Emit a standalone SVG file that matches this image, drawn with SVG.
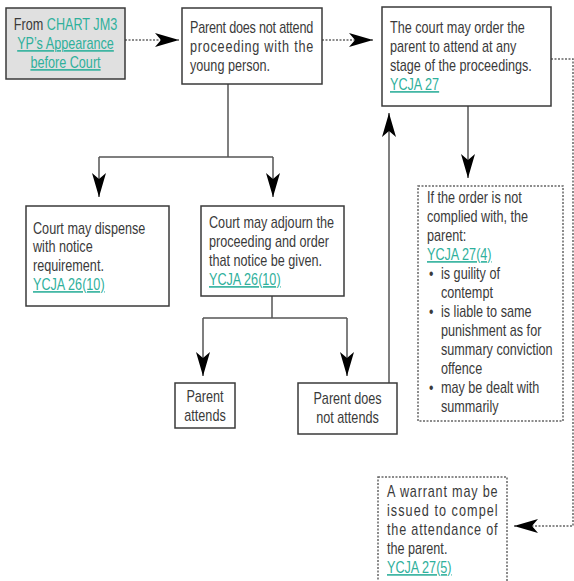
<svg xmlns="http://www.w3.org/2000/svg" width="574" height="581" viewBox="0 0 574 581">
<style>
.box{fill:#fff;stroke:#3a3a3a;stroke-width:1.5}
.grey{fill:#e0e0e0}
.dotbox{fill:#fff;stroke:#666;stroke-width:1.5;stroke-dasharray:2 1.5}
.t{font-family:"Liberation Sans",Arial,sans-serif;font-size:16px;fill:#3a3a3a}
.l{fill:#2fb09c;text-decoration:underline}
.c{fill:#2fb09c}
.m{text-anchor:middle}
.ln{fill:none;stroke:#555;stroke-width:1.5}
.dl{fill:none;stroke:#666;stroke-width:1.5;stroke-dasharray:2 1.5}
</style>
<defs>
<marker id="ah" viewBox="0 0 24 14" refX="24" refY="7" markerWidth="24" markerHeight="14" markerUnits="userSpaceOnUse" orient="auto">
<path d="M0,0 L24,7 L0,14 L6,7 z" fill="#000"/>
</marker>
</defs>
<rect width="574" height="581" fill="#fff"/>

<g id="connectors">
<path class="dl" d="M125,40 H179" marker-end="url(#ah)"/>
<path class="dl" d="M322,40 H373" marker-end="url(#ah)"/>
<path class="ln" d="M228,84 V157 M99,157 H273"/>
<path class="ln" d="M99,157 V197" marker-end="url(#ah)"/>
<path class="ln" d="M273,157 V197" marker-end="url(#ah)"/>
<path class="ln" d="M272,296 V318 M203,318 H347"/>
<path class="ln" d="M203,318 V376" marker-end="url(#ah)"/>
<path class="ln" d="M347,318 V376" marker-end="url(#ah)"/>
<path class="ln" d="M389,383 V113" marker-end="url(#ah)"/>
<path class="ln" d="M468,106 V178" marker-end="url(#ah)"/>
<path class="dl" d="M551,59 H573 V526 H514" marker-end="url(#ah)"/>
</g>

<g id="from-chart">
<rect class="box grey" x="6" y="8" width="119" height="71"/>
<g transform="translate(65.5 0) scale(0.79 1)">
<text class="t m" x="0" y="30">From <tspan class="c">CHART JM3</tspan></text>
<text class="t m l" x="0" y="49">YP’s Appearance</text>
<text class="t m l" x="0" y="68">before Court</text>
</g>
</g>

<g id="not-attend">
<rect class="box" x="182" y="8" width="140" height="76"/>
<g transform="translate(190 0) scale(0.79 1)">
<text class="t" x="0" y="33" textLength="156" lengthAdjust="spacing">Parent does not attend</text>
<text class="t" x="0" y="52" textLength="156" lengthAdjust="spacing">proceeding with the</text>
<text class="t" x="0" y="71">young person.</text>
</g>
</g>

<g id="court-order">
<rect class="box" x="382" y="7" width="169" height="99"/>
<g transform="translate(390 0) scale(0.79 1)">
<text class="t" x="0" y="33">The court may order the</text>
<text class="t" x="0" y="52">parent to attend at any</text>
<text class="t" x="0" y="71">stage of the proceedings.</text>
<text class="t l" x="0" y="90">YCJA 27</text>
</g>
</g>

<g id="dispense">
<rect class="box" x="26" y="206" width="143" height="100"/>
<g transform="translate(33 0) scale(0.79 1)">
<text class="t" x="0" y="234">Court may dispense</text>
<text class="t" x="0" y="252">with notice</text>
<text class="t" x="0" y="271">requirement.</text>
<text class="t l" x="0" y="290">YCJA 26(10)</text>
</g>
</g>

<g id="adjourn">
<rect class="box" x="201" y="206" width="143" height="90"/>
<g transform="translate(209 0) scale(0.79 1)">
<text class="t" x="0" y="228">Court may adjourn the</text>
<text class="t" x="0" y="247">proceeding and order</text>
<text class="t" x="0" y="266">that notice be given.</text>
<text class="t l" x="0" y="285">YCJA 26(10)</text>
</g>
</g>

<g id="attends">
<rect class="box" x="175" y="383" width="60" height="45"/>
<g transform="translate(205 0) scale(0.79 1)">
<text class="t m" x="0" y="402">Parent</text>
<text class="t m" x="0" y="421">attends</text>
</g>
</g>

<g id="not-attends">
<rect class="box" x="298" y="383" width="99" height="51"/>
<g transform="translate(347.5 0) scale(0.79 1)">
<text class="t m" x="0" y="404">Parent does</text>
<text class="t m" x="0" y="423">not attends</text>
</g>
</g>

<g id="noncompliance">
<rect class="dotbox" x="418" y="186" width="145" height="235"/>
<g transform="translate(427 0) scale(0.79 1)">
<text class="t" x="0" y="203">If the order is not</text>
<text class="t" x="0" y="222">complied with, the</text>
<text class="t" x="0" y="241">parent:</text>
<text class="t l" x="0" y="260">YCJA 27(4)</text>
<text class="t" x="2.5" y="279">•</text>
<text class="t" x="17.7" y="279">is guility of</text>
<text class="t" x="17.7" y="298">contempt</text>
<text class="t" x="2.5" y="317">•</text>
<text class="t" x="17.7" y="317">is liable to same</text>
<text class="t" x="17.7" y="336">punishment as for</text>
<text class="t" x="17.7" y="355">summary conviction</text>
<text class="t" x="17.7" y="374">offence</text>
<text class="t" x="2.5" y="393">•</text>
<text class="t" x="17.7" y="393">may be dealt with</text>
<text class="t" x="17.7" y="412">summarily</text>
</g>
</g>

<g id="warrant">
<rect class="dotbox" x="378" y="477" width="129" height="120"/>
<g transform="translate(387 0) scale(0.79 1)">
<text class="t" x="0" y="497" textLength="140" lengthAdjust="spacing">A warrant may be</text>
<text class="t" x="0" y="516" textLength="140" lengthAdjust="spacing">issued to compel</text>
<text class="t" x="0" y="535" textLength="140" lengthAdjust="spacing">the attendance of</text>
<text class="t" x="0" y="554">the parent.</text>
<text class="t l" x="0" y="573">YCJA 27(5)</text>
</g>
</g>
</svg>
